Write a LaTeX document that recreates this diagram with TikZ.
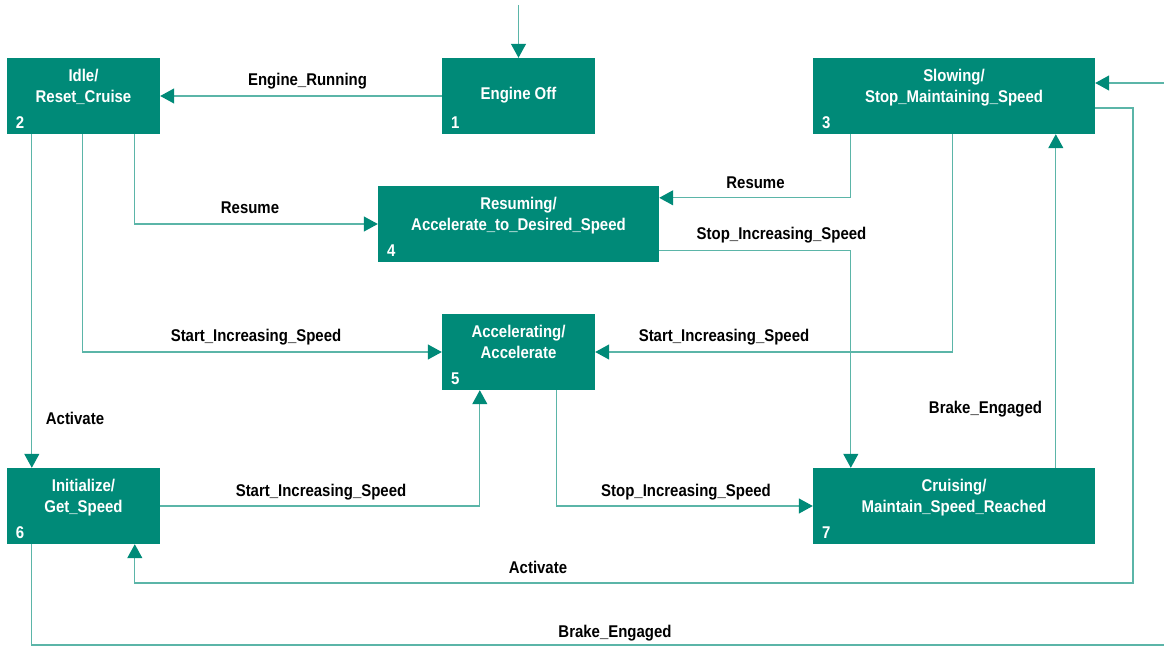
\documentclass[tikz,border=0pt]{standalone}
\usepackage{fontspec}
\setmainfont{Liberation Sans}[FakeStretch=0.88]
\usetikzlibrary{arrows.meta,calc}
\definecolor{stateteal}{HTML}{008A78}
\definecolor{wireteal}{HTML}{5BB5A8}
\tikzset{
  statebox/.style={fill=stateteal, draw=none, inner sep=0pt},
  statetext/.style={text=white, font=\fontsize{17}{20.6}\selectfont\bfseries, align=center, anchor=base, inner sep=0pt},
  statenum/.style={text=white, font=\fontsize{17}{20}\selectfont\bfseries, anchor=base west, inner sep=0pt},
  conn/.style={draw=wireteal, line width=1.2pt,
    -{Triangle[length=14pt, width=15pt, color=stateteal]}},
  wire/.style={draw=wireteal, line width=1.2pt},
  evlabel/.style={font=\fontsize{17}{20}\selectfont\bfseries, anchor=base, inner sep=0pt}
}
\begin{document}
\begin{tikzpicture}[x=1pt, y=-1pt]
\useasboundingbox (0,0) rectangle (1164,647);

% states
\node[statebox, minimum width=153pt, minimum height=76pt] (n1) at (518.5,96) {};
\node[statebox, minimum width=153pt, minimum height=76pt] (n2) at (83.5,96) {};
\node[statebox, minimum width=282pt, minimum height=76pt] (n3) at (954,96) {};
\node[statebox, minimum width=281pt, minimum height=76pt] (n4) at (518.5,224) {};
\node[statebox, minimum width=153pt, minimum height=76pt] (n5) at (518.5,352) {};
\node[statebox, minimum width=153pt, minimum height=76pt] (n6) at (83.5,506) {};
\node[statebox, minimum width=282pt, minimum height=76pt] (n7) at (954,506) {};

% state names (base anchor sits on the last line)
\node[statetext] (t1) at ($(n1.north)+(0,42)$) {Engine Off};
\node[statetext] (t2) at ($(n2.north)+(0,44.3)$) {Idle/\\Reset\_Cruise};
\node[statetext] (t3) at ($(n3.north)+(0,44.3)$) {Slowing/\\Stop\_Maintaining\_Speed};
\node[statetext] (t4) at ($(n4.north)+(0,44.3)$) {Resuming/\\Accelerate\_to\_Desired\_Speed};
\node[statetext] (t5) at ($(n5.north)+(0,44.3)$) {Accelerating/\\Accelerate};
\node[statetext] (t6) at ($(n6.north)+(0,44.3)$) {Initialize/\\Get\_Speed};
\node[statetext] (t7) at ($(n7.north)+(0,44.3)$) {Cruising/\\Maintain\_Speed\_Reached};

% state numbers
\node[statenum] (k1) at ($(n1.south west)+(9,-5.5)$) {1};
\node[statenum] (k2) at ($(n2.south west)+(9,-5.5)$) {2};
\node[statenum] (k3) at ($(n3.south west)+(9,-5.5)$) {3};
\node[statenum] (k4) at ($(n4.south west)+(9,-5.5)$) {4};
\node[statenum] (k5) at ($(n5.south west)+(9,-5.5)$) {5};
\node[statenum] (k6) at ($(n6.south west)+(9,-5.5)$) {6};
\node[statenum] (k7) at ($(n7.south west)+(9,-5.5)$) {7};

% free ends and bends
\coordinate (in1) at (518.5,5);
\coordinate (in3) at (1164,83);
\coordinate (loopR) at (1133,583);
\coordinate (brakeEnd) at (1164,645);

% transitions
\draw[conn] (in1) -- (n1.north);
\draw[conn] (in3) -- (in3 -| n3.east);
\draw[conn] (n1.west) -- (n2.east);
\draw[conn] ($(n2.south west)+(128,0)$) |- (n4.west);
\draw[conn] ($(n2.south west)+(76,0)$) |- (n5.west);
\draw[conn] ($(n2.south west)+(25,0)$) -- ($(n6.north west)+(25,0)$);
\draw[conn] ($(n3.south west)+(38,0)$) |- ($(n4.north east)+(0,12)$);
\draw[conn] ($(n4.south east)+(0,-12)$) -| ($(n7.north west)+(38,0)$);
\draw[conn] ($(n3.south west)+(140,0)$) |- (n5.east);
\draw[conn] ($(n7.north west)+(243,0)$) -- ($(n3.south west)+(243,0)$);
\draw[conn] ($(n3.east)+(0,12)$) -| (loopR) -| ($(n6.south west)+(128,0)$);
\draw[conn] (n6.east) -| ($(n5.south west)+(38,0)$);
\draw[conn] ($(n5.south west)+(115,0)$) |- (n7.west);
\draw[wire] ($(n6.south west)+(25,0)$) |- (brakeEnd);

% events
\node[evlabel] (e12) at (307.5,86) {Engine\_Running};
\node[evlabel] (e24) at (250,214) {Resume};
\node[evlabel] (e25) at (256,341) {Start\_Increasing\_Speed};
\node[evlabel] (e26) at (75,424) {Activate};
\node[evlabel] (e34) at (755.5,188.5) {Resume};
\node[evlabel] (e47) at (781.5,240) {Stop\_Increasing\_Speed};
\node[evlabel] (e35) at (724,341) {Start\_Increasing\_Speed};
\node[evlabel] (e73) at (985.5,413) {Brake\_Engaged};
\node[evlabel] (e65) at (321,496) {Start\_Increasing\_Speed};
\node[evlabel] (e57) at (686,496) {Stop\_Increasing\_Speed};
\node[evlabel] (e36) at (538,573) {Activate};
\node[evlabel] (e6x) at (615,637) {Brake\_Engaged};
\end{tikzpicture}
\end{document}
